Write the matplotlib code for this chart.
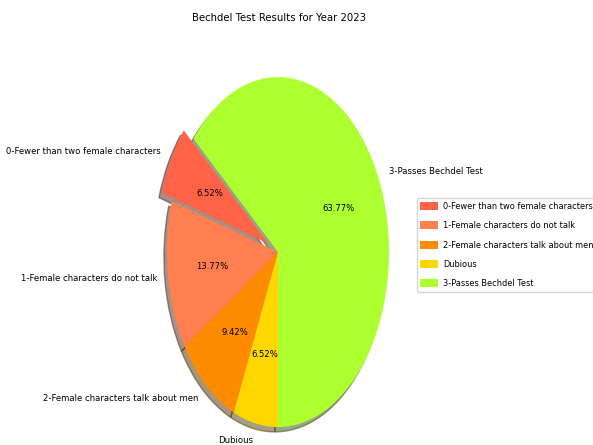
import matplotlib
matplotlib.use("Agg")
import matplotlib.pyplot as plt

categories = ["0-Fewer than two female characters",
              "1-Female characters do not talk",
              "2-Female characters talk about men",
              "Dubious",
              "3-Passes Bechdel Test"]
shares = [6.52, 13.77, 9.42, 6.52, 63.77]
explode = [0.1, 0, 0, 0, 0]
colors = ["tomato", "coral", "darkorange", "gold", "greenyellow"]

plt.rcParams["font.family"] = ["DejaVu Sans"]

fig = plt.figure(figsize=(5.93, 4.45), dpi=100)
ax = fig.add_axes([0.2348, -0.058, 0.468, 0.983])

wedges, texts, autotexts = ax.pie(shares, labels=categories, colors=colors,
                                  explode=explode, autopct="%1.2f%%",
                                  shadow=True, startangle=139.6,
                                  textprops={"fontsize": 6.1})
# stretched look of the reference: pie is an ellipse
ax.set_aspect("auto")
ax.set_xlim(-1.25, 1.25)
ax.set_ylim(-1.25, 1.25)

ax.legend(wedges, categories, loc="center left", bbox_to_anchor=(1.0, 0.516),
          fontsize=5.95, borderaxespad=0, labelspacing=1.25,
          handletextpad=0.6, borderpad=0.45, handlelength=2.1,
          handleheight=1.1)
fig.text(0.47, 0.96, "Bechdel Test Results for Year 2023", ha="center",
         va="center", fontsize=7.3)

fig.savefig("out.png", dpi=100)
